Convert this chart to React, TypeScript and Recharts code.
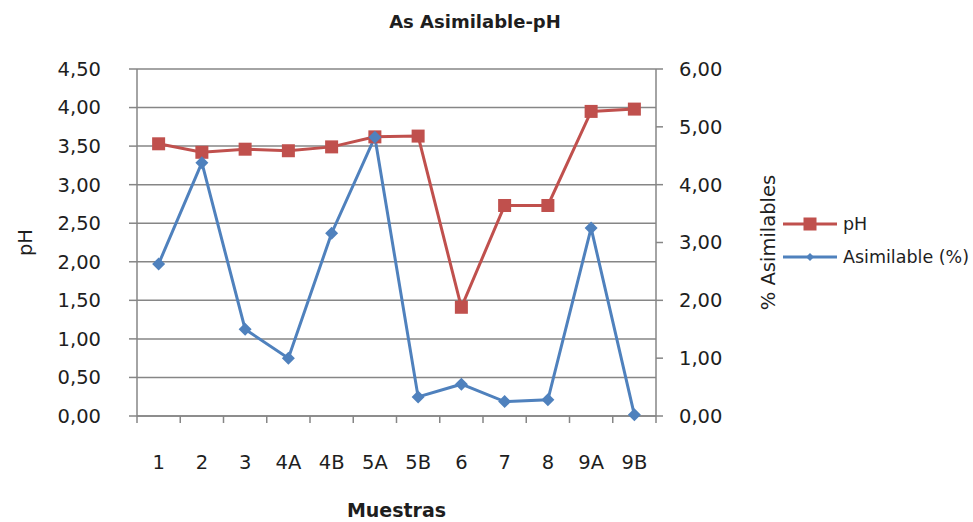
import React from "react";
import {
  ComposedChart,
  Line,
  XAxis,
  YAxis,
  CartesianGrid,
  Label,
} from "recharts";

// Sample identifiers along the horizontal axis
const muestras = ["1", "2", "3", "4A", "4B", "5A", "5B", "6", "7", "8", "9A", "9B"];
// pH of each sample (left axis)
const phValues = [3.53, 3.42, 3.46, 3.44, 3.49, 3.62, 3.63, 1.41, 2.73, 2.73, 3.95, 3.98];
// Assimilable arsenic, percent (right axis)
const asimilableValues = [2.63, 4.38, 1.5, 1.0, 3.16, 4.82, 0.33, 0.55, 0.25, 0.28, 3.25, 0.02];
// Axis tick values
const phTicks = [0, 0.5, 1, 1.5, 2, 2.5, 3, 3.5, 4, 4.5];
const asimTicks = [0, 1, 2, 3, 4, 5, 6];

const data = muestras.map((m, i) => ({
  muestra: m,
  ph: phValues[i],
  asimilable: asimilableValues[i],
}));

const W = 973;
const H = 522;
const MARGIN = { top: 69, right: 187, bottom: 0, left: 0 };
const LEFT_AXIS_W = 137;
const RIGHT_AXIS_W = 130;
const X_AXIS_H = 106;
const PLOT_W = W - MARGIN.left - MARGIN.right - LEFT_AXIS_W - RIGHT_AXIS_W;
const BAND = PLOT_W / muestras.length;

const RED = "#C0504D";
const BLUE = "#4F81BD";
const AXIS = "#868686";
const TEXT = "#1e1e1e";
const FONT = "'DejaVu Sans', sans-serif";
const FS = 19.5;
const TITLE_FS = 19.5;

const fmt = (v: number) => v.toFixed(2).replace(".", ",");

const SquareDot = (props: any) => {
  const { cx, cy } = props;
  if (cx == null || cy == null) return null;
  return <rect x={cx - 6.5} y={cy - 6.5} width={13} height={13} fill={RED} />;
};

const DiamondDot = (props: any) => {
  const { cx, cy } = props;
  if (cx == null || cy == null) return null;
  const r = 6.5;
  return (
    <path
      d={`M${cx},${cy - r}L${cx + r},${cy}L${cx},${cy + r}L${cx - r},${cy}Z`}
      fill={BLUE}
    />
  );
};

// Category ticks: marks sit on the boundaries between samples, labels in the middle
const XTick = (props: any) => {
  const { x, y, payload, index } = props;
  const half = BAND / 2;
  return (
    <g>
      <line x1={x - half} x2={x - half} y1={y} y2={y + 7} stroke={AXIS} strokeWidth={1.5} />
      {index === muestras.length - 1 && (
        <line x1={x + half} x2={x + half} y1={y} y2={y + 7} stroke={AXIS} strokeWidth={1.5} />
      )}
      <text x={x} y={y + 53} textAnchor="middle" fill={TEXT} fontSize={FS} fontFamily={FONT}>
        {payload.value}
      </text>
    </g>
  );
};

const RotatedTitle = (dxFromAxis: number, text: string) => (props: any) => {
  const vb = props.viewBox || {};
  const cx = vb.x + dxFromAxis;
  const cy = vb.y + vb.height / 2;
  return (
    <text
      x={cx}
      y={cy}
      transform={`rotate(-90, ${cx}, ${cy})`}
      textAnchor="middle"
      dominantBaseline="central"
      fill={TEXT}
      fontSize={TITLE_FS}
      fontFamily={FONT}
    >
      {text}
    </text>
  );
};

const XTitle = (props: any) => {
  const vb = props.viewBox || {};
  return (
    <text
      x={vb.x + vb.width / 2}
      y={517}
      textAnchor="middle"
      fill={TEXT}
      fontSize={19}
      fontWeight="bold"
      fontFamily={FONT}
    >
      Muestras
    </text>
  );
};

export default function App() {
  return (
    <div
      style={{
        position: "absolute",
        left: 0,
        top: 0,
        width: W,
        height: H,
        background: "#ffffff",
        fontFamily: FONT,
      }}
    >
      <ComposedChart width={W} height={H} data={data} margin={MARGIN}>
        <CartesianGrid yAxisId="left" vertical={false} stroke={AXIS} strokeWidth={1.5} />
        <XAxis
          dataKey="muestra"
          type="category"
          scale="band"
          interval={0}
          height={X_AXIS_H}
          tickLine={false}
          tickSize={0}
          tickMargin={0}
          axisLine={{ stroke: AXIS, strokeWidth: 1.5 }}
          tick={<XTick />}
        >
          <Label content={XTitle} />
        </XAxis>
        <YAxis
          yAxisId="left"
          orientation="left"
          width={LEFT_AXIS_W}
          domain={[0, 4.5]}
          ticks={phTicks}
          interval={0}
          tickFormatter={fmt}
          tickSize={8}
          tickMargin={28}
          tickLine={{ stroke: AXIS, strokeWidth: 1.5 }}
          axisLine={{ stroke: AXIS, strokeWidth: 1.5 }}
          tick={{ fill: TEXT, fontSize: FS, fontFamily: FONT }}
        >
          <Label content={RotatedTitle(25, "pH")} />
        </YAxis>
        <YAxis
          yAxisId="right"
          orientation="right"
          width={RIGHT_AXIS_W}
          domain={[0, 6]}
          ticks={asimTicks}
          interval={0}
          tickFormatter={fmt}
          tickSize={7}
          tickMargin={16}
          tickLine={{ stroke: AXIS, strokeWidth: 1.5 }}
          axisLine={{ stroke: AXIS, strokeWidth: 1.5 }}
          tick={{ fill: TEXT, fontSize: FS, fontFamily: FONT, textAnchor: "start" }}
        >
          <Label content={RotatedTitle(112, "% Asimilables")} />
        </YAxis>
        <Line
          yAxisId="left"
          dataKey="ph"
          name="pH"
          stroke={RED}
          strokeWidth={3}
          dot={<SquareDot />}
          activeDot={false}
          isAnimationActive={false}
        />
        <Line
          yAxisId="right"
          dataKey="asimilable"
          name="Asimilable (%)"
          stroke={BLUE}
          strokeWidth={3}
          dot={<DiamondDot />}
          activeDot={false}
          isAnimationActive={false}
        />
      </ComposedChart>

      {/* chart title and series key */}
      <svg
        width={W}
        height={H}
        style={{ position: "absolute", left: 0, top: 0, pointerEvents: "none" }}
      >
        <text
          x={475}
          y={28}
          textAnchor="middle"
          fill={TEXT}
          fontSize={18}
          fontWeight="bold"
          fontFamily={FONT}
        >
          As Asimilable-pH
        </text>
        <g>
          <line x1={783} x2={837} y1={224} y2={224} stroke={RED} strokeWidth={3} />
          <rect x={803.5} y={217.5} width={13} height={13} fill={RED} />
          <text x={843} y={224} dominantBaseline="central" fill={TEXT} fontSize={17.5} fontFamily={FONT}>
            pH
          </text>
        </g>
        <g>
          <line x1={783} x2={837} y1={257} y2={257} stroke={BLUE} strokeWidth={3} />
          <path d="M810,253L814,257L810,261L806,257Z" fill={BLUE} />
          <text x={843} y={257} dominantBaseline="central" fill={TEXT} fontSize={17.5} fontFamily={FONT}>
            Asimilable (%)
          </text>
        </g>
      </svg>
    </div>
  );
}
